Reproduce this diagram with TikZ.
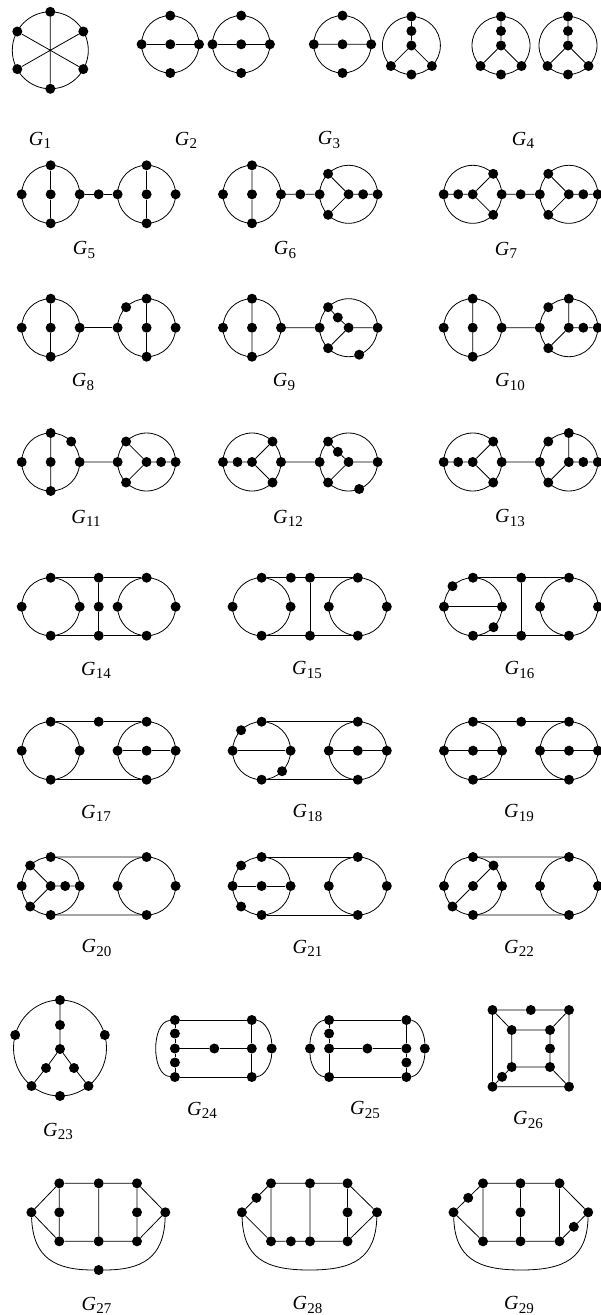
\documentclass[tikz,border=0pt]{standalone}
\usepackage{fontspec}
\setmainfont{Liberation Serif}
\newcommand{\gl}[1]{\textit{G}\kern0.3pt\raisebox{-0.35ex}{\fontsize{15}{15}\selectfont #1}}
\newcommand{\V}[3]{\node[v] (#1) at (#2,#3) {};}
\begin{document}
\begin{tikzpicture}[x=1pt,y=-1pt,
  v/.style={circle,fill=black,draw=none,inner sep=0pt,minimum size=10pt},
  e/.style={line width=0.8pt},
  lab/.style={inner sep=0pt,font=\fontsize{20}{20}\selectfont}]
\useasboundingbox (0,0) rectangle (600,1315);
% ---------------- G1
\draw[e] (50.3,50.3) ellipse [x radius=38pt, y radius=38.5pt];
\V{g1a}{50.3}{11.8}\V{g1b}{50.3}{88.8}\V{g1c}{17.3}{31.5}\V{g1d}{83.3}{69.1}\V{g1e}{17.3}{69.1}\V{g1f}{83.3}{31.5}
\draw[e] (g1a)--(g1b) (g1c)--(g1d) (g1e)--(g1f);
\node[lab] (l1) at (40,140) {\gl{1}};
% ---------------- G2
\draw[e] (170.3,44.3) circle[radius=28.7pt] (241.2,44.3) circle[radius=28.7pt];
\V{g2a}{170.3}{15.6}\V{g2b}{170.3}{73}\V{g2c}{141.6}{44.3}\V{g2d}{170.3}{44.3}\V{g2e}{199}{44.3}
\V{g2f}{241.2}{15.6}\V{g2g}{241.2}{73}\V{g2h}{212.5}{44.3}\V{g2i}{241.2}{44.3}\V{g2j}{269.9}{44.3}
\draw[e] (g2c)--(g2d)--(g2e) (g2h)--(g2i)--(g2j);
\node[lab] (l2) at (186,140) {\gl{2}};
% ---------------- G3
\draw[e] (342.5,44.3) circle[radius=28.7pt] (411.4,45.5) circle[radius=29pt];
\V{g3a}{342.5}{15.6}\V{g3b}{342.5}{73}\V{g3c}{313.8}{44.3}\V{g3d}{342.5}{44.3}\V{g3e}{371.2}{44.3}
\V{g3f}{411.4}{16.5}\V{g3g}{411.4}{31}\V{g3h}{411.4}{45.5}\V{g3i}{390.9}{66}\V{g3j}{431.9}{66}\V{g3k}{411.4}{74.5}
\draw[e] (g3c)--(g3d)--(g3e) (g3f)--(g3g)--(g3h) (g3h)--(g3i) (g3h)--(g3j);
\node[lab] (l3) at (329,140) {\gl{3}};
% ---------------- G4
\draw[e] (501,45.5) circle[radius=29pt] (568,45.5) circle[radius=29pt];
\V{g4a}{501}{16.5}\V{g4b}{501}{31}\V{g4c}{501}{45.5}\V{g4d}{480.5}{66}\V{g4e}{521.5}{66}\V{g4f}{501}{74.5}
\V{g4g}{568}{16.5}\V{g4h}{568}{31}\V{g4i}{568}{45.5}\V{g4j}{547.5}{66}\V{g4k}{588.5}{66}\V{g4l}{568}{74.5}
\draw[e] (g4a)--(g4b)--(g4c) (g4c)--(g4d) (g4c)--(g4e) (g4g)--(g4h)--(g4i) (g4i)--(g4j) (g4i)--(g4k);
\node[lab] (l4) at (523,140) {\gl{4}};
% ---------------- G5
\draw[e] (50.7,194.3) circle[radius=29pt] (146.6,194.3) circle[radius=29pt];
\V{g5a}{21.7}{194.3}\V{g5b}{50.7}{165.3}\V{g5c}{50.7}{194.3}\V{g5d}{50.7}{223.3}\V{g5e}{79.7}{194.3}
\V{g5f}{98.7}{194.3}
\V{g5g}{117.6}{194.3}\V{g5h}{146.6}{165.3}\V{g5i}{146.6}{194.3}\V{g5j}{146.6}{223.3}\V{g5k}{175.6}{194.3}
\draw[e] (g5b)--(g5c)--(g5d) (g5h)--(g5i)--(g5j) (g5e)--(g5f)--(g5g);
\node[lab] (l5) at (84,250) {\gl{5}};
% ---------------- G6
\draw[e] (252,194.3) circle[radius=29pt] (348.6,194.3) circle[radius=29pt];
\V{g6a}{223}{194.3}\V{g6b}{252}{165.3}\V{g6c}{252}{194.3}\V{g6d}{252}{223.3}\V{g6e}{281}{194.3}
\V{g6f}{300.3}{194.3}
\V{g6g}{319.6}{194.3}\V{g6h}{328.1}{173.8}\V{g6i}{328.1}{214.8}\V{g6j}{348.6}{194.3}\V{g6k}{363.1}{194.3}\V{g6l}{377.6}{194.3}
\draw[e] (g6b)--(g6c)--(g6d) (g6e)--(g6f)--(g6g) (g6h)--(g6j) (g6i)--(g6j) (g6j)--(g6k)--(g6l);
\node[lab] (l6) at (285,250) {\gl{6}};
% ---------------- G7
\draw[e] (472.7,194.3) circle[radius=29pt] (568.8,194.3) circle[radius=29pt];
\V{g7a}{443.7}{194.3}\V{g7b}{458.2}{194.3}\V{g7c}{472.7}{194.3}\V{g7d}{493.2}{173.8}\V{g7e}{493.2}{214.8}\V{g7f}{501.7}{194.3}
\V{g7g}{520.7}{194.3}
\V{g7h}{539.8}{194.3}\V{g7i}{548.3}{173.8}\V{g7j}{548.3}{214.8}\V{g7k}{568.8}{194.3}\V{g7l}{583.3}{194.3}\V{g7m}{597.8}{194.3}
\draw[e] (g7a)--(g7b)--(g7c) (g7c)--(g7d) (g7c)--(g7e) (g7f)--(g7g)--(g7h) (g7i)--(g7k) (g7j)--(g7k) (g7k)--(g7l)--(g7m);
\node[lab] (l7) at (506,250) {\gl{7}};
% ---------------- G8
\draw[e] (50.7,327.7) circle[radius=29pt] (146.6,327.7) circle[radius=29pt];
\V{g8a}{21.7}{327.7}\V{g8b}{50.7}{298.7}\V{g8c}{50.7}{327.7}\V{g8d}{50.7}{356.7}\V{g8e}{79.7}{327.7}
\V{g8f}{117.6}{327.7}\V{g8g}{126.1}{307.2}\V{g8h}{146.6}{298.7}\V{g8i}{146.6}{327.7}\V{g8j}{146.6}{356.7}\V{g8k}{175.6}{327.7}
\draw[e] (g8b)--(g8c)--(g8d) (g8h)--(g8i)--(g8j) (g8e)--(g8f);
\node[lab] (l8) at (83,382) {\gl{8}};
% ---------------- G9
\draw[e] (252,327.7) circle[radius=29pt] (348.6,327.7) circle[radius=29pt];
\V{g9a}{223}{327.7}\V{g9b}{252}{298.7}\V{g9c}{252}{327.7}\V{g9d}{252}{356.7}\V{g9e}{281}{327.7}
\V{g9f}{319.6}{327.7}\V{g9g}{328.1}{307.2}\V{g9h}{337.8}{317.5}\V{g9i}{348.6}{327.7}\V{g9j}{377.6}{327.7}\V{g9k}{328.1}{348.2}\V{g9l}{359.2}{354.7}
\draw[e] (g9b)--(g9c)--(g9d) (g9e)--(g9f) (g9g)--(g9h)--(g9i) (g9i)--(g9j) (g9i)--(g9k);
\node[lab] (l9) at (284,382) {\gl{9}};
% ---------------- G10
\draw[e] (472.7,327.7) circle[radius=29pt] (568.8,327.7) circle[radius=29pt];
\V{g10a}{443.7}{327.7}\V{g10b}{472.7}{298.7}\V{g10c}{472.7}{327.7}\V{g10d}{472.7}{356.7}\V{g10e}{501.7}{327.7}
\V{g10f}{539.8}{327.7}\V{g10g}{548.3}{307.2}\V{g10h}{568.8}{298.7}\V{g10i}{568.8}{327.7}\V{g10j}{583.3}{327.7}\V{g10k}{597.8}{327.7}\V{g10l}{548.3}{348.2}
\draw[e] (g10b)--(g10c)--(g10d) (g10e)--(g10f) (g10h)--(g10i) (g10i)--(g10j)--(g10k) (g10i)--(g10l);
\node[lab] (l10) at (510,382) {\gl{10}};
% ---------------- G11
\draw[e] (50.7,462) circle[radius=29pt] (146.6,462) circle[radius=29pt];
\V{g11a}{21.7}{462}\V{g11b}{50.7}{433}\V{g11c}{50.7}{462}\V{g11d}{50.7}{491}\V{g11e}{71.2}{441.5}\V{g11f}{79.7}{462}
\V{g11g}{117.6}{462}\V{g11h}{126.1}{441.5}\V{g11i}{126.1}{482.5}\V{g11j}{146.6}{462}\V{g11k}{161.1}{462}\V{g11l}{175.6}{462}
\draw[e] (g11b)--(g11c)--(g11d) (g11f)--(g11g) (g11h)--(g11j) (g11i)--(g11j) (g11j)--(g11k)--(g11l);
\node[lab] (l11) at (86,518) {\gl{11}};
% ---------------- G12
\draw[e] (252,462) circle[radius=29pt] (348.6,462) circle[radius=29pt];
\V{g12a}{223}{462}\V{g12b}{237.5}{462}\V{g12c}{252}{462}\V{g12d}{272.5}{441.5}\V{g12e}{272.5}{482.5}\V{g12f}{281}{462}
\V{g12g}{319.6}{462}\V{g12h}{328.1}{441.5}\V{g12i}{337.8}{451.8}\V{g12j}{348.6}{462}\V{g12k}{377.6}{462}\V{g12l}{328.1}{482.5}\V{g12m}{359.2}{489}
\draw[e] (g12a)--(g12b)--(g12c) (g12c)--(g12d) (g12c)--(g12e) (g12f)--(g12g) (g12h)--(g12i)--(g12j) (g12j)--(g12k) (g12j)--(g12l);
\node[lab] (l12) at (288,518) {\gl{12}};
% ---------------- G13
\draw[e] (472.7,462) circle[radius=29pt] (568.8,462) circle[radius=29pt];
\V{g13a}{443.7}{462}\V{g13b}{458.2}{462}\V{g13c}{472.7}{462}\V{g13d}{493.2}{441.5}\V{g13e}{493.2}{482.5}\V{g13f}{501.7}{462}
\V{g13g}{539.8}{462}\V{g13h}{548.3}{441.5}\V{g13i}{568.8}{433}\V{g13j}{568.8}{462}\V{g13k}{583.3}{462}\V{g13l}{597.8}{462}\V{g13m}{548.3}{482.5}
\draw[e] (g13a)--(g13b)--(g13c) (g13c)--(g13d) (g13c)--(g13e) (g13f)--(g13g) (g13i)--(g13j) (g13j)--(g13k)--(g13l) (g13j)--(g13m);
\node[lab] (l13) at (510,518) {\gl{13}};
% ---------------- G14
\draw[e] (50.7,606.7) circle[radius=29pt] (146.6,606.7) circle[radius=29pt];
\V{g14a}{50.7}{577.7}\V{g14b}{21.7}{606.7}\V{g14c}{79.7}{606.7}\V{g14d}{50.7}{635.7}
\V{g14e}{98.7}{577.7}\V{g14f}{98.7}{606.7}\V{g14g}{98.7}{635.7}
\V{g14h}{146.6}{577.7}\V{g14i}{117.6}{606.7}\V{g14j}{175.6}{606.7}\V{g14k}{146.6}{635.7}
\draw[e] (g14a)--(g14e)--(g14h) (g14d)--(g14g)--(g14k) (g14e)--(g14f)--(g14g);
\node[lab] (l14) at (96,670) {\gl{14}};
% ---------------- G15
\draw[e] (261.6,606.7) circle[radius=29pt] (357.8,606.7) circle[radius=29pt];
\V{g15a}{261.6}{577.7}\V{g15b}{232.6}{606.7}\V{g15c}{290.6}{606.7}\V{g15d}{261.6}{635.7}
\V{g15e}{290.9}{577.7}\V{g15f}{310}{577.7}\V{g15g}{310}{635.7}
\V{g15h}{357.8}{577.7}\V{g15i}{328.8}{606.7}\V{g15j}{386.8}{606.7}\V{g15k}{357.8}{635.7}
\draw[e] (g15a)--(g15e)--(g15f)--(g15h) (g15d)--(g15g)--(g15k) (g15f)--(g15g);
\node[lab] (l15) at (307,670) {\gl{15}};
% ---------------- G16
\draw[e] (473,606.7) circle[radius=29pt] (569,606.7) circle[radius=29pt];
\V{g16a}{473}{577.7}\V{g16b}{452.5}{586.2}\V{g16c}{444}{606.7}\V{g16d}{502}{606.7}\V{g16e}{493.5}{627.2}\V{g16f}{473}{635.7}
\V{g16g}{521.2}{577.7}\V{g16h}{521.2}{635.7}
\V{g16i}{569}{577.7}\V{g16j}{540}{606.7}\V{g16k}{598}{606.7}\V{g16l}{569}{635.7}
\draw[e] (g16a)--(g16g)--(g16i) (g16f)--(g16h)--(g16l) (g16g)--(g16h) (g16c)--(g16d);
\node[lab] (l16) at (519.5,670) {\gl{16}};
% ---------------- G17
\draw[e] (50.7,750.7) circle[radius=29pt] (146.6,750.7) circle[radius=29pt];
\V{g17a}{50.7}{721.7}\V{g17b}{21.7}{750.7}\V{g17c}{79.7}{750.7}\V{g17d}{50.7}{779.7}
\V{g17e}{98.7}{721.7}
\V{g17f}{146.6}{721.7}\V{g17g}{117.6}{750.7}\V{g17h}{146.6}{750.7}\V{g17i}{175.6}{750.7}\V{g17j}{146.6}{779.7}
\draw[e] (g17a)--(g17e)--(g17f) (g17d)--(g17j) (g17g)--(g17h)--(g17i);
\node[lab] (l17) at (96,813) {\gl{17}};
% ---------------- G18
\draw[e] (261.6,750.7) circle[radius=29pt] (357.8,750.7) circle[radius=29pt];
\V{g18a}{261.6}{721.7}\V{g18b}{241.1}{730.2}\V{g18c}{232.6}{750.7}\V{g18d}{290.6}{750.7}\V{g18e}{282.1}{771.2}\V{g18f}{261.6}{779.7}
\V{g18g}{357.8}{721.7}\V{g18h}{328.8}{750.7}\V{g18i}{357.8}{750.7}\V{g18j}{386.8}{750.7}\V{g18k}{357.8}{779.7}
\draw[e] (g18a)--(g18g) (g18f)--(g18k) (g18c)--(g18d) (g18h)--(g18i)--(g18j);
\node[lab] (l18) at (307.5,813) {\gl{18}};
% ---------------- G19
\draw[e] (473,750.7) circle[radius=29pt] (569,750.7) circle[radius=29pt];
\V{g19a}{473}{721.7}\V{g19b}{444}{750.7}\V{g19c}{473}{750.7}\V{g19d}{502}{750.7}\V{g19e}{473}{779.7}
\V{g19f}{521.2}{721.7}
\V{g19g}{569}{721.7}\V{g19h}{540}{750.7}\V{g19i}{569}{750.7}\V{g19j}{598}{750.7}\V{g19k}{569}{779.7}
\draw[e] (g19a)--(g19f)--(g19g) (g19e)--(g19k) (g19b)--(g19c)--(g19d) (g19h)--(g19i)--(g19j);
\node[lab] (l19) at (519,813) {\gl{19}};
% ---------------- G20
\draw[e] (50.7,886) circle[radius=29pt] (146.6,886) circle[radius=29pt];
\V{g20a}{50.7}{857}\V{g20b}{30.2}{865.5}\V{g20c}{21.7}{886}\V{g20d}{50.7}{886}\V{g20e}{65.2}{886}\V{g20f}{79.7}{886}\V{g20g}{30.2}{906.5}\V{g20h}{50.7}{915}
\V{g20i}{146.6}{857}\V{g20j}{117.6}{886}\V{g20k}{175.6}{886}\V{g20l}{146.6}{915}
\draw[e] (g20a)--(g20i) (g20h)--(g20l) (g20b)--(g20d) (g20g)--(g20d) (g20d)--(g20e)--(g20f);
\node[lab] (l20) at (96.6,948) {\gl{20}};
% ---------------- G21
\draw[e] (261.6,886) circle[radius=29pt] (357.8,886) circle[radius=29pt];
\V{g21a}{261.6}{857}\V{g21b}{241.1}{865.5}\V{g21c}{232.6}{886}\V{g21d}{261.6}{886}\V{g21e}{290.6}{886}\V{g21f}{241.1}{906.5}\V{g21g}{261.6}{915}
\V{g21h}{357.8}{857}\V{g21i}{328.8}{886}\V{g21j}{386.8}{886}\V{g21k}{357.8}{915}
\draw[e] (g21a)--(g21h) (g21g)--(g21k) (g21c)--(g21d)--(g21e);
\node[lab] (l21) at (307.5,948) {\gl{21}};
% ---------------- G22
\draw[e] (473,886) circle[radius=29pt] (569,886) circle[radius=29pt];
\V{g22a}{473}{857}\V{g22b}{493.5}{865.5}\V{g22c}{444}{886}\V{g22d}{473}{886}\V{g22e}{502}{886}\V{g22f}{452.5}{906.5}\V{g22g}{473}{915}
\V{g22h}{569}{857}\V{g22i}{540}{886}\V{g22j}{598}{886}\V{g22k}{569}{915}
\draw[e] (g22a)--(g22h) (g22g)--(g22k) (g22b)--(g22d)--(g22f);
\node[lab] (l22) at (519,948) {\gl{22}};
% ---------------- G23
\draw[e] (60,1048) ellipse [x radius=46.5pt, y radius=48pt];
\V{g23a}{60}{1000}\V{g23b}{60}{1025}\V{g23c}{60}{1049}\V{g23d}{46}{1068}\V{g23e}{74}{1068}
\V{g23f}{15.2}{1035}\V{g23g}{104.8}{1035}\V{g23h}{31.5}{1086}\V{g23i}{88.5}{1086}\V{g23j}{60}{1096}
\draw[e] (g23a)--(g23b)--(g23c) (g23c)--(g23d)--(g23h) (g23c)--(g23e)--(g23i);
\node[lab] (l23) at (58,1131.7) {\gl{23}};
% ---------------- G24
\V{g24a}{174.9}{1020}\V{g24b}{174.9}{1033.5}\V{g24c}{174.9}{1048.5}\V{g24d}{174.9}{1062.5}\V{g24e}{174.9}{1077}
\V{g24f}{214.3}{1048.5}\V{g24g}{251.8}{1020}\V{g24h}{251.8}{1048.5}\V{g24i}{251.8}{1077}\V{g24j}{271.7}{1048.5}
\draw[e] (g24a)--(g24g) (g24e)--(g24i) (g24a)--(g24b)--(g24c)--(g24d)--(g24e) (g24g)--(g24h)--(g24i) (g24c)--(g24f)--(g24h);
\draw[e] (g24a) .. controls (151,1022) and (151,1075) .. (g24e);
\draw[e] (g24g) .. controls (265,1021) and (271.7,1034) .. (g24j) .. controls (271.7,1063) and (265,1076) .. (g24i);
\node[lab] (l24) at (202,1110) {\gl{24}};
% ---------------- G25
\V{g25a}{329.1}{1020}\V{g25b}{329.1}{1033.5}\V{g25c}{329.1}{1048.5}\V{g25d}{329.1}{1077}\V{g25e}{310}{1048.5}
\V{g25f}{367.4}{1048.5}\V{g25g}{406.4}{1020}\V{g25h}{406.4}{1048.5}\V{g25i}{406.4}{1062.5}\V{g25j}{406.4}{1077}\V{g25k}{424.8}{1048.5}
\draw[e] (g25a)--(g25g) (g25d)--(g25j) (g25a)--(g25b)--(g25c)--(g25d) (g25g)--(g25h)--(g25i)--(g25j) (g25c)--(g25f)--(g25h);
\draw[e] (g25a) .. controls (316,1021) and (310,1034) .. (g25e) .. controls (310,1063) and (316,1076) .. (g25d);
\draw[e] (g25g) .. controls (419,1021) and (424.8,1034) .. (g25k) .. controls (424.8,1063) and (419,1076) .. (g25j);
\node[lab] (l25) at (365,1110) {\gl{25}};
% ---------------- G26
\V{g26a}{492.5}{1010}\V{g26b}{530.8}{1010}\V{g26c}{569}{1010}\V{g26d}{569}{1086.7}\V{g26e}{492.5}{1086.7}
\V{g26f}{511.7}{1030}\V{g26g}{550}{1030}\V{g26h}{550}{1048.5}\V{g26i}{550}{1067}\V{g26j}{511.7}{1067}\V{g26k}{502.1}{1076.8}
\draw[e] (g26a)--(g26b)--(g26c)--(g26d)--(g26e)--(g26a) (g26f)--(g26g)--(g26h)--(g26i)--(g26j)--(g26f)
  (g26a)--(g26f) (g26c)--(g26g) (g26d)--(g26i) (g26e)--(g26k)--(g26j);
\node[lab] (l26) at (528,1120) {\gl{26}};
% ---------------- G27
\V{g27a}{31.4}{1212.3}\V{g27b}{59.3}{1183.3}\V{g27c}{59.3}{1212.3}\V{g27d}{59.3}{1241.3}\V{g27e}{98.7}{1183.3}\V{g27f}{98.7}{1241.3}
\V{g27g}{137}{1183.3}\V{g27h}{137}{1212.3}\V{g27i}{137}{1241.3}\V{g27j}{165.3}{1212.3}\V{g27k}{98.7}{1270}
\draw[e] (g27a)--(g27b) (g27a)--(g27d) (g27b)--(g27e)--(g27g) (g27d)--(g27f)--(g27i) (g27b)--(g27c)--(g27d) (g27e)--(g27f) (g27g)--(g27h)--(g27i) (g27j)--(g27g) (g27j)--(g27i);
\draw[e] (g27a) .. controls (33,1258) and (55,1270) .. (g27k) .. controls (142,1270) and (164,1258) .. (g27j);
\node[lab] (l27) at (96.5,1305) {\gl{27}};
% ---------------- G28
\V{g28a}{241.9}{1212.3}\V{g28b}{256.4}{1197.8}\V{g28c}{271}{1183.3}\V{g28d}{271}{1241.3}\V{g28e}{290.9}{1241.3}\V{g28f}{310}{1183.3}
\V{g28g}{310}{1241.3}\V{g28h}{347.5}{1183.3}\V{g28i}{347.5}{1212.3}\V{g28j}{347.5}{1241.3}\V{g28k}{377}{1212.3}
\draw[e] (g28a)--(g28b)--(g28c) (g28a)--(g28d) (g28c)--(g28f)--(g28h) (g28d)--(g28e)--(g28g)--(g28j) (g28c)--(g28d) (g28f)--(g28g) (g28h)--(g28i)--(g28j) (g28k)--(g28h) (g28k)--(g28j);
\draw[e] (g28a) .. controls (243.5,1258) and (265,1270) .. (309.5,1270) .. controls (354,1270) and (375.5,1258) .. (g28k);
\node[lab] (l28) at (307.5,1305) {\gl{28}};
% ---------------- G29
\V{g29a}{453.5}{1212.3}\V{g29b}{468.2}{1197.8}\V{g29c}{483}{1183.3}\V{g29d}{483}{1241.3}\V{g29e}{520.5}{1183.3}\V{g29f}{520.5}{1212.3}
\V{g29g}{520.5}{1241.3}\V{g29h}{559.5}{1183.3}\V{g29i}{559.5}{1241.3}\V{g29j}{588.2}{1212.3}\V{g29k}{573.8}{1226.8}
\draw[e] (g29a)--(g29b)--(g29c) (g29a)--(g29d) (g29c)--(g29e)--(g29h) (g29d)--(g29g)--(g29i) (g29c)--(g29d) (g29e)--(g29f)--(g29g) (g29h)--(g29i) (g29j)--(g29h) (g29j)--(g29k)--(g29i);
\draw[e] (g29a) .. controls (455,1258) and (477,1270) .. (521,1270) .. controls (565,1270) and (587,1258) .. (g29j);
\node[lab] (l29) at (519,1305) {\gl{29}};
\end{tikzpicture}
\end{document}
